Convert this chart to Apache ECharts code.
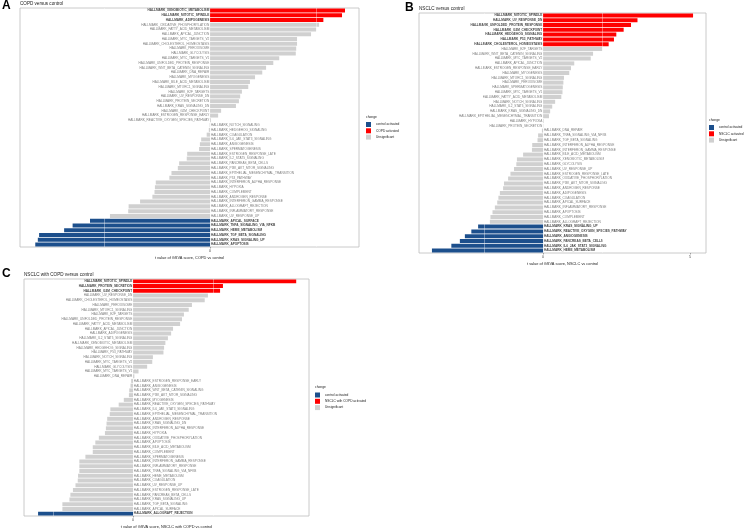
<!DOCTYPE html>
<html>
<head>
<meta charset="utf-8">
<script src="https://cdn.jsdelivr.net/npm/echarts@6/dist/echarts.min.js"></script>
<style>
  html, body { margin: 0; padding: 0; background: #fff; }
  #main { width: 747px; height: 530px; }
</style>
</head>
<body>
<div id="main"></div>
<script>
// hallmark gene sets, top to bottom, with their t values (HALLMARK_ prefix added when drawn)
const copdNames = ['XENOBIOTIC_METABOLISM', 'MITOTIC_SPINDLE', 'ADIPOGENESIS', 'OXIDATIVE_PHOSPHORYLATION', 'FATTY_ACID_METABOLISM',
  'APICAL_JUNCTION', 'MYC_TARGETS_V2', 'CHOLESTEROL_HOMEOSTASIS', 'PEROXISOME', 'GLYCOLYSIS',
  'MYC_TARGETS_V1', 'UNFOLDED_PROTEIN_RESPONSE', 'WNT_BETA_CATENIN_SIGNALING', 'DNA_REPAIR', 'MYOGENESIS',
  'BILE_ACID_METABOLISM', 'MTORC1_SIGNALING', 'E2F_TARGETS', 'UV_RESPONSE_DN', 'PROTEIN_SECRETION',
  'KRAS_SIGNALING_DN', 'G2M_CHECKPOINT', 'ESTROGEN_RESPONSE_EARLY', 'REACTIVE_OXYGEN_SPECIES_PATHWAY', 'NOTCH_SIGNALING',
  'HEDGEHOG_SIGNALING', 'COAGULATION', 'IL6_JAK_STAT3_SIGNALING', 'ANGIOGENESIS', 'SPERMATOGENESIS',
  'ESTROGEN_RESPONSE_LATE', 'IL2_STAT5_SIGNALING', 'PANCREAS_BETA_CELLS', 'PI3K_AKT_MTOR_SIGNALING', 'EPITHELIAL_MESENCHYMAL_TRANSITION',
  'P53_PATHWAY', 'INTERFERON_ALPHA_RESPONSE', 'HYPOXIA', 'COMPLEMENT', 'ANDROGEN_RESPONSE',
  'INTERFERON_GAMMA_RESPONSE', 'ALLOGRAFT_REJECTION', 'INFLAMMATORY_RESPONSE', 'UV_RESPONSE_UP', 'APICAL_SURFACE',
  'TNFA_SIGNALING_VIA_NFKB', 'HEME_METABOLISM', 'TGF_BETA_SIGNALING', 'KRAS_SIGNALING_UP', 'APOPTOSIS'];
const copdT = [3.18, 3.11, 2.67, 2.57, 2.50, 2.38, 2.05, 2.05, 2.03, 2.02,
  1.63, 1.49, 1.32, 1.23, 1.06, 0.94, 0.90, 0.75, 0.71, 0.68,
  0.61, 0.26, 0.19, 0.02, -0.01, -0.03, -0.08, -0.21, -0.24, -0.26,
  -0.54, -0.55, -0.73, -0.76, -0.91, -0.96, -1.28, -1.30, -1.31, -1.36,
  -1.65, -1.92, -1.93, -2.36, -2.83, -3.24, -3.44, -4.03, -4.06, -4.12];
const copdSig = [3, 6]; // number of activated rows at the top / bottom

const nsclcNames = ['MITOTIC_SPINDLE', 'UV_RESPONSE_DN', 'UNFOLDED_PROTEIN_RESPONSE', 'G2M_CHECKPOINT', 'HEDGEHOG_SIGNALING',
  'P53_PATHWAY', 'CHOLESTEROL_HOMEOSTASIS', 'E2F_TARGETS', 'WNT_BETA_CATENIN_SIGNALING', 'MYC_TARGETS_V2',
  'APICAL_JUNCTION', 'ESTROGEN_RESPONSE_EARLY', 'MYOGENESIS', 'MTORC1_SIGNALING', 'PEROXISOME',
  'SPERMATOGENESIS', 'MYC_TARGETS_V1', 'FATTY_ACID_METABOLISM', 'NOTCH_SIGNALING', 'IL2_STAT5_SIGNALING',
  'KRAS_SIGNALING_DN', 'EPITHELIAL_MESENCHYMAL_TRANSITION', 'HYPOXIA', 'PROTEIN_SECRETION', 'DNA_REPAIR',
  'TNFA_SIGNALING_VIA_NFKB', 'TGF_BETA_SIGNALING', 'INTERFERON_ALPHA_RESPONSE', 'INTERFERON_GAMMA_RESPONSE', 'BILE_ACID_METABOLISM',
  'XENOBIOTIC_METABOLISM', 'GLYCOLYSIS', 'UV_RESPONSE_UP', 'ESTROGEN_RESPONSE_LATE', 'OXIDATIVE_PHOSPHORYLATION',
  'PI3K_AKT_MTOR_SIGNALING', 'ANDROGEN_RESPONSE', 'ADIPOGENESIS', 'COAGULATION', 'APICAL_SURFACE',
  'INFLAMMATORY_RESPONSE', 'APOPTOSIS', 'COMPLEMENT', 'ALLOGRAFT_REJECTION', 'KRAS_SIGNALING_UP',
  'REACTIVE_OXYGEN_SPECIES_PATHWAY', 'ANGIOGENESIS', 'PANCREAS_BETA_CELLS', 'IL6_JAK_STAT3_SIGNALING', 'HEME_METABOLISM'];
const nsclcT = [5.10, 3.21, 2.99, 2.74, 2.49, 2.41, 2.23, 2.01, 1.70, 1.62,
  1.06, 0.95, 0.89, 0.71, 0.69, 0.67, 0.66, 0.62, 0.41, 0.31,
  0.24, 0.20, 0.02, 0.01, -0.04, -0.17, -0.19, -0.37, -0.38, -0.68,
  -0.89, -0.91, -0.99, -1.11, -1.19, -1.33, -1.36, -1.47, -1.52, -1.56,
  -1.64, -1.72, -1.79, -1.81, -2.21, -2.44, -2.66, -2.83, -3.12, -3.78];
const nsclcSig = [7, 6];

const bothNames = ['MITOTIC_SPINDLE', 'PROTEIN_SECRETION', 'G2M_CHECKPOINT', 'UV_RESPONSE_DN', 'CHOLESTEROL_HOMEOSTASIS',
  'PEROXISOME', 'MTORC1_SIGNALING', 'E2F_TARGETS', 'UNFOLDED_PROTEIN_RESPONSE', 'FATTY_ACID_METABOLISM',
  'APICAL_JUNCTION', 'ADIPOGENESIS', 'IL2_STAT5_SIGNALING', 'XENOBIOTIC_METABOLISM', 'HEDGEHOG_SIGNALING',
  'P53_PATHWAY', 'NOTCH_SIGNALING', 'MYC_TARGETS_V2', 'GLYCOLYSIS', 'MYC_TARGETS_V1',
  'DNA_REPAIR', 'ESTROGEN_RESPONSE_EARLY', 'ANGIOGENESIS', 'WNT_BETA_CATENIN_SIGNALING', 'PI3K_AKT_MTOR_SIGNALING',
  'MYOGENESIS', 'REACTIVE_OXYGEN_SPECIES_PATHWAY', 'IL6_JAK_STAT3_SIGNALING', 'EPITHELIAL_MESENCHYMAL_TRANSITION', 'ANDROGEN_RESPONSE',
  'KRAS_SIGNALING_DN', 'INTERFERON_ALPHA_RESPONSE', 'HYPOXIA', 'OXIDATIVE_PHOSPHORYLATION', 'APOPTOSIS',
  'BILE_ACID_METABOLISM', 'COMPLEMENT', 'SPERMATOGENESIS', 'INTERFERON_GAMMA_RESPONSE', 'INFLAMMATORY_RESPONSE',
  'TNFA_SIGNALING_VIA_NFKB', 'HEME_METABOLISM', 'COAGULATION', 'UV_RESPONSE_UP', 'ESTROGEN_RESPONSE_LATE',
  'PANCREAS_BETA_CELLS', 'KRAS_SIGNALING_UP', 'TGF_BETA_SIGNALING', 'APICAL_SURFACE', 'ALLOGRAFT_REJECTION'];
const bothT = [5.10, 2.81, 2.72, 2.34, 2.24, 1.84, 1.74, 1.59, 1.53, 1.47,
  1.25, 1.19, 1.09, 1.01, 0.97, 0.95, 0.62, 0.60, 0.44, 0.17,
  0.04, -0.06, -0.08, -0.12, -0.13, -0.29, -0.45, -0.71, -0.73, -0.81,
  -0.83, -0.85, -0.88, -1.07, -1.18, -1.26, -1.26, -1.49, -1.68, -1.68,
  -1.68, -1.72, -1.73, -1.80, -1.88, -1.96, -1.99, -2.21, -2.21, -2.97];
const bothSig = [3, 1];

const legendNames = {
  A: ['control activated', 'COPD activated', 'Unsignificant'],
  B: ['control activated', 'NSCLC activated', 'Unsignificant'],
  C: ['control activated', 'NSCLC with COPD activated', 'Unsignificant']
};

const BLUE = '#1c4f8c';
const RED = '#ff0000';
const GREY = '#d0d0d0';
const FONT = 'Liberation Sans';

// layout of the three panels
const panels = [
  { key: 'A', names: copdNames, t: copdT, sig: copdSig, title: 'COPD versus control',
    grid: { left: 20, top: 8, width: 339, height: 239 }, min: -4.48, max: 3.51, ticks: [0], ref: [-2.5, 2.5],
    axisName: 't value of GSVA score, COPD vs control',
    letterPos: [2, 0], titlePos: [20, 1.5], legendPos: [366, 122] },
  { key: 'B', names: nsclcNames, t: nsclcT, sig: nsclcSig, title: 'NSCLC versus control',
    grid: { left: 419, top: 13, width: 287, height: 240 }, min: -4.22, max: 5.54, ticks: [0, 5], ref: [-2, 2],
    axisName: 't value of GSVA score, NSCLC vs control',
    letterPos: [405, 2], titlePos: [419, 6.5], legendPos: [709, 125] },
  { key: 'C', names: bothNames, t: bothT, sig: bothSig, title: 'NSCLC with COPD versus control',
    grid: { left: 24, top: 279, width: 285, height: 239 }, min: -3.41, max: 5.5, ticks: [0], ref: [-2.5, 2.5],
    axisName: 't value of GSVA score, NSCLC with COPD vs control',
    letterPos: [2, 268], titlePos: [24, 272], legendPos: [315, 392.5] }
];

let chart = echarts.init(document.getElementById('main'), null, { renderer: 'canvas' });

let grids = [], xAxes = [], yAxes = [], series = [], titles = [], legends = [];

panels.forEach(function (p, k) {
    grids.push(Object.assign({ show: true, borderColor: '#bdbdbd', borderWidth: 0.8, backgroundColor: '#fff' }, p.grid));
    xAxes.push({
        type: 'value', gridIndex: k, min: p.min, max: p.max,
        axisLine: { show: false },
        splitLine: { show: false },
        axisTick: { show: true, length: 1.5, customValues: p.ticks, lineStyle: { color: '#555', width: 0.5 } },
        axisLabel: { fontSize: 3.6, color: '#444', margin: 1.5, fontFamily: FONT, customValues: p.ticks },
        name: p.axisName, nameLocation: 'middle', nameGap: 9,
        nameTextStyle: { fontSize: 3.9, color: '#222', fontFamily: FONT }
    });
    yAxes.push({
        type: 'category', gridIndex: k, data: p.names, inverse: true,
        axisLine: { show: false }, axisTick: { show: false }, axisLabel: { show: false }, splitLine: { show: false }
    });

    let nUp = p.sig[0], nDown = p.sig[1], n = p.t.length;
    let down = p.t.map((v, i) => i >= n - nDown ? v : '-');
    let up = p.t.map((v, i) => i < nUp ? v : '-');
    let rest = p.t.map((v, i) => (i >= nUp && i < n - nDown) ? v : '-');
    let names = legendNames[p.key];
    [[down, BLUE, names[0]], [up, RED, names[1]], [rest, GREY, names[2]]].forEach(function (s, j) {
        let ser = {
            type: 'bar', name: s[2], xAxisIndex: k, yAxisIndex: k, data: s[0],
            barWidth: '84%', barGap: '-100%', itemStyle: { color: s[1] }, silent: true
        };
        if (j === 2) {
            ser.markLine = {
                silent: true, symbol: 'none', label: { show: false },
                lineStyle: { color: '#fff', width: 0.8, type: 'solid', opacity: 0.45 },
                data: p.ref.map(r => ({ xAxis: r }))
            };
        }
        series.push(ser);
    });

    // gene set names sit on the zero line
    series.push({
        type: 'scatter', xAxisIndex: k, yAxisIndex: k, symbolSize: 0, silent: true,
        data: p.names.map(function (nm, i) {
            let sig = i < nUp || i >= n - nDown;
            return {
                value: [0, nm],
                label: {
                    show: true, position: p.t[i] >= 0 ? 'left' : 'right', distance: 0.8,
                    formatter: 'HALLMARK_' + nm, fontSize: 3.15, fontFamily: FONT,
                    fontWeight: sig ? 'bold' : 'normal', color: sig ? '#111' : '#5c5c5c'
                }
            };
        })
    });

    titles.push({ text: p.key, left: p.letterPos[0], top: p.letterPos[1], padding: 0,
        textStyle: { fontSize: 12, fontWeight: 'bold', color: '#000', fontFamily: FONT } });
    titles.push({ text: p.title, left: p.titlePos[0], top: p.titlePos[1], padding: 0,
        textStyle: { fontSize: 4.6, fontWeight: 'normal', color: '#222', fontFamily: FONT } });
    titles.push({ text: 'change', left: p.legendPos[0], top: p.legendPos[1] - 6.5, padding: 0,
        textStyle: { fontSize: 3.3, fontWeight: 'normal', color: '#222', fontFamily: FONT } });

    legends.push({
        data: names.map(nm => ({ name: nm, icon: 'rect' })), orient: 'vertical',
        left: p.legendPos[0], top: p.legendPos[1], padding: 0,
        itemWidth: 5, itemHeight: 5, itemGap: 1.3, selectedMode: false,
        textStyle: { fontSize: 3.2, color: '#222', fontFamily: FONT }
    });
});

chart.setOption({
    backgroundColor: '#fff',
    animation: false,
    title: titles,
    legend: legends,
    grid: grids,
    xAxis: xAxes,
    yAxis: yAxes,
    series: series
});
</script>
</body>
</html>
